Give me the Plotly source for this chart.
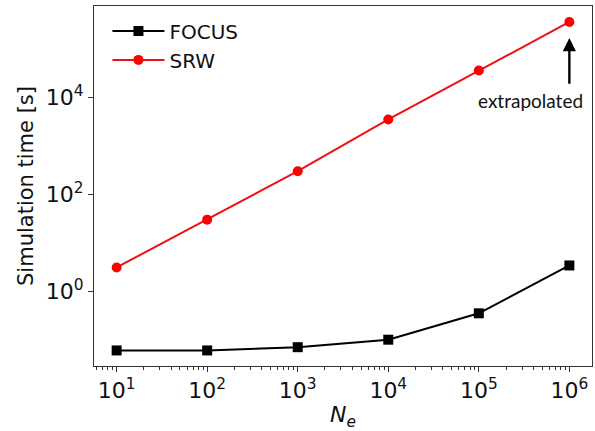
import plotly.graph_objects as go

n_e = [1e1, 1e2, 1e3, 1e4, 1e5, 1e6]
focus_time = [0.060, 0.060, 0.070, 0.10, 0.35, 3.4]
srw_time = [3.1, 30, 300, 3500, 36000, 360000]

x_tickvals = [1e1, 1e2, 1e3, 1e4, 1e5, 1e6]
x_ticktext = ["10<sup>1</sup>", "10<sup>2</sup>", "10<sup>3</sup>", "10<sup>4</sup>", "10<sup>5</sup>", "10<sup>6</sup>"]
y_tickvals = [1e0, 1e2, 1e4]
y_ticktext = ["10<sup>0</sup>", "10<sup>2</sup>", "10<sup>4</sup>"]

minor_vals = [m * 10 ** d for d in range(0, 7) for m in range(2, 10)]

font = "DejaVu Sans"

fig = go.Figure()
fig.add_trace(go.Scatter(x=n_e, y=focus_time, mode="lines+markers", name="FOCUS",
                         line=dict(color="black", width=2),
                         marker=dict(symbol="square", size=10, color="black")))
fig.add_trace(go.Scatter(x=n_e, y=srw_time, mode="lines+markers", name="SRW",
                         line=dict(color="#ee1111", width=2),
                         marker=dict(symbol="circle", size=10, color="#ff0000")))

axis_common = dict(showline=True, linecolor="#333", linewidth=1, mirror=True,
                   showgrid=False, zeroline=False, ticks="outside", ticklen=5,
                   tickcolor="#333", automargin=False,
                   tickfont=dict(family=font, size=22, color="#111"))

fig.update_xaxes(type="log", range=[0.75, 6.25], tickmode="array",
                 tickvals=x_tickvals, ticktext=x_ticktext,
                 minor=dict(ticks="outside", ticklen=3, tickcolor="#333",
                            tickmode="array", tickvals=minor_vals, showgrid=False),
                 title=dict(text="<i>N</i><sub><i>e</i></sub>", font=dict(family=font, size=22, color="#111"),
                            standoff=6),
                 **axis_common)
fig.update_yaxes(type="log", range=[-1.543, 5.886], tickmode="array",
                 tickvals=y_tickvals, ticktext=y_ticktext,
                 title=dict(text="Simulation time [s]", font=dict(family=font, size=21, color="#111"),
                            standoff=6),
                 **axis_common)

fig.add_annotation(x=6, y=5.225, ax=6, ay=4.25, xref="x", yref="y", axref="x", ayref="y",
                   text="", showarrow=True, arrowhead=2, arrowsize=1.1, arrowwidth=2.4,
                   arrowcolor="black")
fig.add_annotation(x=5.573, y=3.944, xref="x", yref="y", text="extrapolated", showarrow=False,
                   font=dict(family="Lato", size=19, color="#111"))

fig.update_layout(width=595, height=431, margin=dict(l=94, r=3, t=6, b=65),
                  plot_bgcolor="white", paper_bgcolor="white",
                  legend=dict(x=0.027, y=0.985, xanchor="left", yanchor="top", itemwidth=52,
                              bgcolor="rgba(0,0,0,0)", font=dict(family=font, size=20, color="#111")),
                  showlegend=True)

fig.write_html("out.html", config={"displayModeBar": False},
               post_script="document.body.style.margin='0';document.body.style.overflow='hidden';")
